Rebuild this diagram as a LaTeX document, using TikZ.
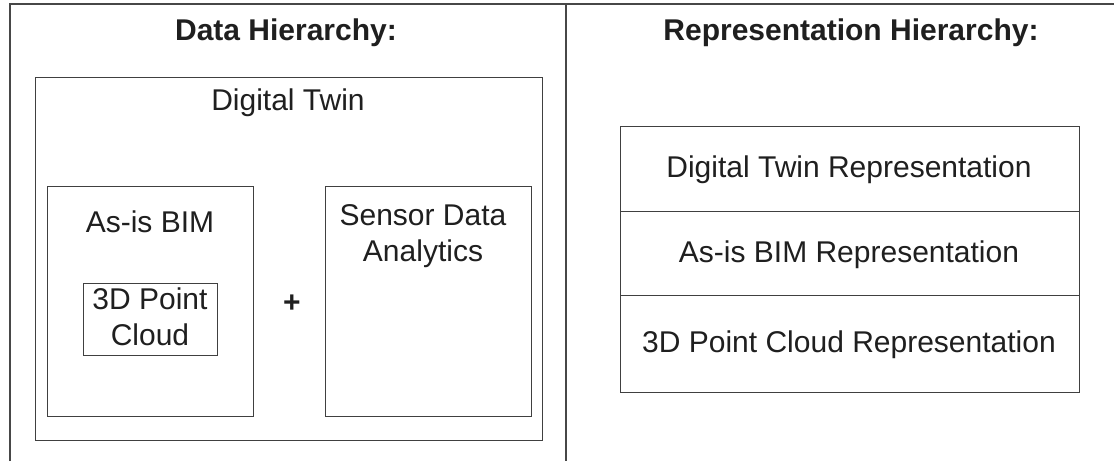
\documentclass[tikz,border=0pt]{standalone}
\usepackage{fontspec}
\setmainfont{Liberation Sans}
\begin{document}
\begin{tikzpicture}[x=1pt,y=-1pt,
  frameline/.style={line width=1.6pt, draw=black!72},
  boxline/.style={line width=1.4pt, draw=black!75},
  box/.style={boxline, rectangle, inner sep=0pt, anchor=north west},
  lbl/.style={anchor=base, inner sep=0pt, text=black!88,
    font=\fontsize{30}{36}\selectfont, align=center},
  ttl/.style={lbl, font=\fontsize{30}{36}\selectfont\bfseries}]
\useasboundingbox (0,0) rectangle (1114,461);
\fill[white] (0,0) rectangle (1114,461);

% outer frame and column divider
\coordinate (tl) at (10,4);
\coordinate (tr) at (1114,4);
\coordinate (bl) at (10,461);
\coordinate (dtop) at (566,4);
\coordinate (dbot) at (566,461);
\draw[frameline] (bl) -- (tl) -- (tr);
\draw[frameline] (dtop) -- (dbot);

% column titles
\node[ttl] (t1) at (286,40) {Data Hierarchy:};
\node[ttl] (t2) at (851,40) {Representation Hierarchy:};

% data hierarchy boxes
\node[box, minimum width=507pt, minimum height=363pt] (dt) at (35,77) {};
\node[box, minimum width=206pt, minimum height=230pt] (bim) at (47,186) {};
\node[box, minimum width=134pt, minimum height=72pt] (pc) at (83,283) {};
\node[box, minimum width=206pt, minimum height=230pt] (sda) at (325,186) {};

\node[lbl] (dtl) at (288,110) {Digital Twin};
\node[lbl] (biml) at (150,232) {As-is BIM};
\node[lbl] (pcl1) at (150,309) {3D Point};
\node[lbl] (pcl2) at (150,345) {Cloud};
\node[lbl, font=\fontsize{30}{36}\selectfont\bfseries] (plus) at (292,312) {+};
\node[lbl] (sdal1) at (423,225) {Sensor Data};
\node[lbl] (sdal2) at (423,261) {Analytics};

% representation hierarchy stack
\node[box, minimum width=459pt, minimum height=85pt] (r1) at (620,126) {};
\node[box, minimum width=459pt, minimum height=84pt] (r2) at (620,211) {};
\node[box, minimum width=459pt, minimum height=97pt] (r3) at (620,295) {};

\node[lbl] (r1l) at (849,177) {Digital Twin Representation};
\node[lbl] (r2l) at (849,262) {As-is BIM Representation};
\node[lbl] (r3l) at (849,352) {3D Point Cloud Representation};
\end{tikzpicture}
\end{document}
